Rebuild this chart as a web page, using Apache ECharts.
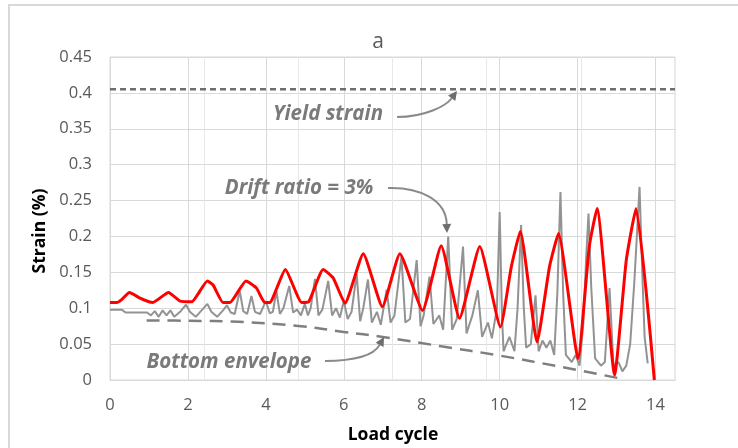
<!DOCTYPE html>
<html>
<head>
<meta charset="utf-8">
<script src="https://cdn.jsdelivr.net/npm/echarts@6/dist/echarts.min.js"></script>
<style>
  html, body { margin: 0; padding: 0; background: #ffffff; }
  #chart { width: 738px; height: 448px; }
</style>
</head>
<body>
<div id="chart"></div>
<script>
// Peak strain per load step (red trace)
const redX = [0, 0.17, 0.3, 0.5, 0.77, 1.0, 1.1, 1.5, 1.8, 2.1, 2.5, 2.65, 2.9, 3.08, 3.49, 3.76, 3.97, 4.1,
  4.5, 4.92, 5.1, 5.47, 5.73, 6.03, 6.5, 6.99, 7.44, 8.02, 8.5, 8.97, 9.49, 10.02, 10.3, 10.53, 10.96,
  11.28, 11.51, 12.01, 12.3, 12.5, 12.95, 13.25, 13.5, 13.97];
const redY = [0.108, 0.108, 0.112, 0.122, 0.114, 0.109, 0.108, 0.122, 0.110, 0.109, 0.138, 0.132, 0.108, 0.108,
  0.138, 0.128, 0.108, 0.108, 0.154, 0.108, 0.109, 0.154, 0.142, 0.107, 0.176, 0.102, 0.176, 0.097, 0.187,
  0.086, 0.186, 0.074, 0.158, 0.207, 0.053, 0.158, 0.204, 0.030, 0.186, 0.239, 0.007, 0.167, 0.239, 0.0];

// Measured strain history (grey trace)
const grayX = [0, 0.3, 0.4, 0.95, 1.05, 1.15, 1.25, 1.35, 1.45, 1.55,
  1.65, 1.8, 1.95, 2.05, 2.2, 2.35, 2.5, 2.6, 2.75, 2.9,
  3.0, 3.1, 3.2, 3.33, 3.42, 3.52, 3.63, 3.72, 3.85, 4.0,
  4.1, 4.18, 4.27, 4.36, 4.45, 4.6, 4.7, 4.8, 4.9, 5.0,
  5.08, 5.15, 5.26, 5.35, 5.45, 5.6, 5.7, 5.8, 5.9, 6.0,
  6.1, 6.2, 6.33, 6.42, 6.5, 6.62, 6.72, 6.85, 6.95, 7.1,
  7.2, 7.3, 7.48, 7.58, 7.7, 7.87, 7.97, 8.05, 8.2, 8.3,
  8.45, 8.55, 8.68, 8.78, 8.9, 9.06, 9.15, 9.3, 9.44, 9.55,
  9.7, 9.8, 9.93, 10.0, 10.06, 10.1, 10.25, 10.38, 10.46, 10.55,
  10.62, 10.68, 10.8, 10.92, 11.0, 11.1, 11.2, 11.3, 11.4, 11.48,
  11.56, 11.63, 11.7, 11.85, 11.95, 12.05, 12.15, 12.22, 12.28, 12.35,
  12.45, 12.6, 12.7, 12.82, 12.92, 13.05, 13.15, 13.25, 13.35, 13.46,
  13.59, 13.66, 13.72, 13.8];
const grayY = [0.098, 0.098, 0.094, 0.094, 0.090, 0.096, 0.088, 0.097, 0.090, 0.097,
  0.088, 0.095, 0.105, 0.095, 0.088, 0.097, 0.106, 0.095, 0.088, 0.097,
  0.104, 0.094, 0.092, 0.124, 0.096, 0.092, 0.117, 0.095, 0.092, 0.110,
  0.093, 0.095, 0.124, 0.092, 0.100, 0.131, 0.094, 0.098, 0.090, 0.106,
  0.090, 0.100, 0.141, 0.090, 0.098, 0.138, 0.090, 0.100, 0.087, 0.110,
  0.085, 0.095, 0.148, 0.082, 0.100, 0.140, 0.080, 0.095, 0.077, 0.126,
  0.080, 0.090, 0.172, 0.080, 0.085, 0.167, 0.075, 0.090, 0.144, 0.078,
  0.090, 0.070, 0.200, 0.070, 0.085, 0.186, 0.065, 0.090, 0.125, 0.060,
  0.080, 0.058, 0.100, 0.234, 0.090, 0.040, 0.060, 0.040, 0.100, 0.216,
  0.100, 0.045, 0.050, 0.118, 0.040, 0.055, 0.045, 0.055, 0.035, 0.120,
  0.262, 0.120, 0.035, 0.025, 0.035, 0.020, 0.080, 0.170, 0.232, 0.130,
  0.030, 0.020, 0.025, 0.128, 0.020, 0.025, 0.012, 0.020, 0.050, 0.140,
  0.269, 0.150, 0.060, 0.023];

// Lower bound of the grey trace
const envX = [0.94, 2.0, 3.3, 4.9, 6.0, 7.0, 8.5, 10.0, 11.6, 13.2];
const envY = [0.083, 0.0825, 0.081, 0.075, 0.067, 0.060, 0.047, 0.034, 0.018, 0.001];

// Yield strain level
const yieldX = [0, 14.5];
const yieldY = [0.405, 0.405];

const zip = (xs, ys) => xs.map((x, i) => [x, ys[i]]);

const FONT = '"Open Sans", "Liberation Sans", sans-serif';
const chart = echarts.init(document.getElementById('chart'), null, { renderer: 'canvas' });

chart.setOption({
  animation: false,
  backgroundColor: '#ffffff',
  grid: { left: 110, top: 57, right: 63, bottom: 68, show: true, borderColor: '#d9d9d9', borderWidth: 1 },
  xAxis: [{
    type: 'value', min: 0, max: 14.5, interval: 2,
    axisLine: { show: true, lineStyle: { color: '#d9d9d9' } },
    axisTick: { show: false },
    axisLabel: { color: '#595959', fontSize: 16.5, fontFamily: FONT, margin: 17, showMaxLabel: false },
    splitLine: { show: true, lineStyle: { color: '#d9d9d9' } }
  }, {
    type: 'value', min: 0, max: 14.5, interval: 14.5 / 6, position: 'top',
    axisLine: { show: false }, axisTick: { show: false }, axisLabel: { show: false },
    splitLine: { show: true, lineStyle: { color: '#e8e8e8' } }
  }],
  yAxis: {
    type: 'value', min: 0, max: 0.45, interval: 0.05,
    axisLine: { show: true, lineStyle: { color: '#d9d9d9' } },
    axisTick: { show: false },
    axisLabel: { color: '#595959', fontSize: 16.5, fontFamily: FONT, margin: 18 },
    splitLine: { show: true, lineStyle: { color: '#d9d9d9' } }
  },
  series: [
    {
      name: 'Strain', type: 'line', data: zip(grayX, grayY), showSymbol: false, symbol: 'none',
      lineStyle: { color: '#939393', width: 2 }, z: 2
    },
    {
      name: 'Bottom envelope', type: 'line', data: zip(envX, envY), showSymbol: false, symbol: 'none', smooth: 0.4,
      lineStyle: { color: '#7f7f7f', width: 2.5, type: [13, 8] }, z: 3
    },
    {
      name: 'Yield strain', type: 'line', data: zip(yieldX, yieldY), showSymbol: false, symbol: 'none',
      lineStyle: { color: '#6e6e6e', width: 2.5, type: [6, 4] }, z: 3
    },
    {
      name: 'Peak strain', type: 'line', data: zip(redX, redY), showSymbol: false, symbol: 'none', smooth: 0.15,
      lineStyle: { color: '#ff0000', width: 3 }, z: 5
    }
  ]
});

// Curved annotation arrows with a filled head at the end point
function arrow(p0, c1, c2, p1) {
  const dx = p1[0] - c2[0], dy = p1[1] - c2[1];
  const len = Math.hypot(dx, dy) || 1;
  const ux = dx / len, uy = dy / len;
  const L = 9, W = 4.5;
  const bx = p1[0] - ux * L, by = p1[1] - uy * L;
  return [
    { type: 'bezierCurve', shape: { x1: p0[0], y1: p0[1], cpx1: c1[0], cpy1: c1[1], cpx2: c2[0], cpy2: c2[1],
        x2: bx, y2: by }, style: { stroke: '#8a8a8a', lineWidth: 2, fill: null }, z: 10 },
    { type: 'polygon', shape: { points: [p1, [bx - uy * W, by + ux * W], [bx + uy * W, by - ux * W]] },
      style: { fill: '#6e6e6e' }, z: 10 }
  ];
}

function note(text, x, y) {
  return { type: 'text', x: x, y: y, z: 10,
    style: { text: text, fill: '#7a7a7a', fontSize: 20.5, fontStyle: 'italic', fontWeight: 'bold',
      fontFamily: FONT, align: 'center', verticalAlign: 'middle' } };
}

chart.setOption({
  graphic: [
    { type: 'rect', shape: { x: 9, y: 5, width: 760, height: 480 }, style: { fill: null, stroke: '#d9d9d9', lineWidth: 2 }, z: 0 },
    { type: 'text', x: 378, y: 42, style: { text: 'a', fill: '#595959', fontSize: 21, fontFamily: FONT, align: 'center', verticalAlign: 'middle' } },
    { type: 'text', x: 40, y: 231, rotation: Math.PI / 2,
      style: { text: 'Strain (%)', fill: '#000000', fontSize: 17.5, fontWeight: 'bold', fontFamily: FONT, align: 'center', verticalAlign: 'middle' } },
    { type: 'text', x: 393, y: 435,
      style: { text: 'Load cycle', fill: '#000000', fontSize: 17.5, fontWeight: 'bold', fontFamily: FONT, align: 'center', verticalAlign: 'middle' } },
    note('Yield strain', 328, 114),
    note('Drift ratio = 3%', 299, 188),
    note('Bottom envelope', 229, 362),
    ...arrow([397, 117], [425, 117], [446, 106], [457, 91]),
    ...arrow([388, 188], [420, 187], [446, 200], [447, 233]),
    ...arrow([325, 361], [355, 361], [374, 355], [384, 337])
  ]
});
</script>
</body>
</html>
